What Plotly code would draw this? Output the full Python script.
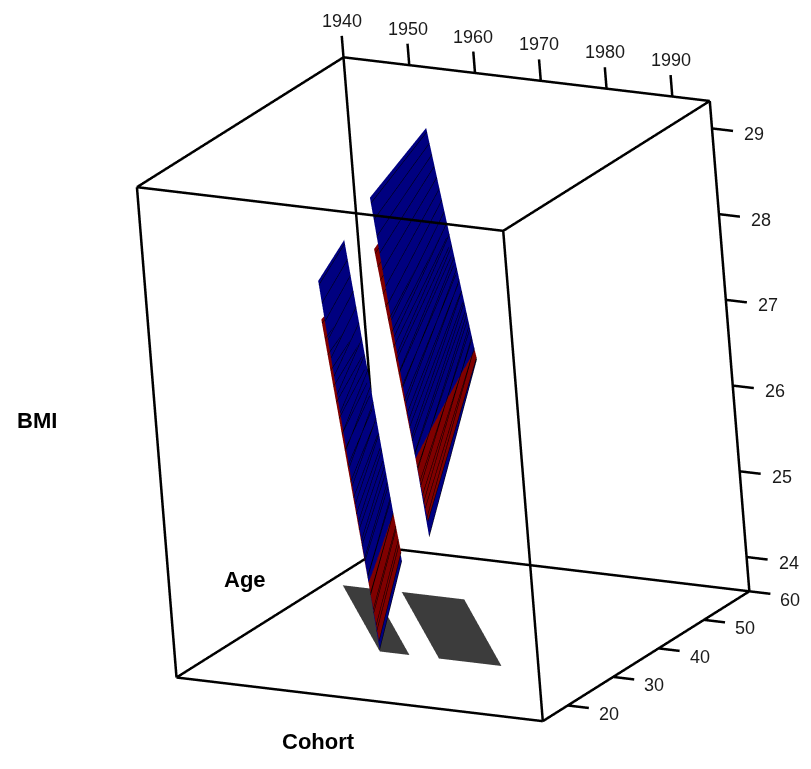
import numpy as np
import plotly.graph_objects as go

# two survey strips: period span (years) and age span
strip_periods = [[1990.0, 1994.5], [1999.0, 2008.5]]
strip_ages = [[29.3, 47.5], [29.3, 47.6]]

# BMI at strip corners: rows = age (low, high), cols = period (start, end)
bmi_blue = [
    [[23.62, 24.70], [27.15, 27.67]],
    [[25.02, 27.18], [28.20, 29.10]],
]
bmi_red = [
    [[23.72, 24.80], [26.70, 27.10]],
    [[25.20, 27.20], [27.60, 28.60]],
]

# axes
cohort_ticks = [1940, 1950, 1960, 1970, 1980, 1990]
age_ticks = [20, 30, 40, 50, 60]
bmi_ticks = [24, 25, 26, 27, 28, 29]
cohort_lim = [1940.0, 1995.7]
age_lim = [14.5, 60.0]
bmi_lim = [23.6, 29.32]

NAVY = "#000080"
MAROON = "#800000"
SHADOW = "#3c3c3c"
FONT = "Liberation Sans, Arial, sans-serif"

flat = dict(ambient=1, diffuse=0, specular=0, roughness=1, fresnel=0)


def flat_scale(c):
    return [[0, c], [1, c]]


fig = go.Figure()

for k in range(len(strip_periods)):
    per = np.array(strip_periods[k])
    age = np.array(strip_ages[k])
    cohort = per[None, :] - age[:, None]
    ages2d = np.repeat(age[:, None], 2, axis=1)

    # shadow on the floor
    fig.add_trace(go.Surface(
        x=cohort, y=ages2d, z=np.full_like(cohort, bmi_lim[0]),
        colorscale=flat_scale(SHADOW), showscale=False, lighting=flat,
        hoverinfo="skip"))

    for vals, col in [(bmi_blue[k], NAVY), (bmi_red[k], MAROON)]:
        fig.add_trace(go.Surface(
            x=cohort, y=ages2d, z=np.array(vals),
            colorscale=flat_scale(col), showscale=False, lighting=flat,
            contours=dict(
                y=dict(show=True, start=age[0], end=age[1], size=0.9,
                       color="black", width=1),
            ),
            hoverinfo="skip"))

# bounding box
x0, x1 = cohort_lim
y0, y1 = age_lim
z0, z1 = bmi_lim
bx, by, bz = [], [], []
corners = [(x, y, z) for x in (x0, x1) for y in (y0, y1) for z in (z0, z1)]
for i in range(8):
    for j in range(i + 1, 8):
        a, b = corners[i], corners[j]
        if sum(p != q for p, q in zip(a, b)) == 1:
            bx += [a[0], b[0], None]
            by += [a[1], b[1], None]
            bz += [a[2], b[2], None]

# tick marks
tick_z = 0.25   # cohort ticks point up
tick_x = 3.2    # BMI and age ticks point along +cohort
tx, ty, tz = [], [], []
for c in cohort_ticks:
    tx += [c, c, None]; ty += [y1, y1, None]; tz += [z1, z1 + tick_z, None]
for b in bmi_ticks:
    tx += [x1, x1 + tick_x, None]; ty += [y1, y1, None]; tz += [b, b, None]
for a in age_ticks:
    tx += [x1, x1 + tick_x, None]; ty += [a, a, None]; tz += [z0, z0, None]

fig.add_trace(go.Scatter3d(x=bx + tx, y=by + ty, z=bz + tz, mode="lines",
                           line=dict(color="black", width=5),
                           hoverinfo="skip", showlegend=False))

tick_font = dict(family=FONT, size=18, color="#1a1a1a")
annos = []
for c in cohort_ticks:
    annos.append(dict(x=c, y=y1, z=z1 + tick_z, text=str(c),
                      xanchor="center", yanchor="bottom", yshift=3))
for b in bmi_ticks:
    annos.append(dict(x=x1 + tick_x, y=y1, z=b, text=str(b),
                      xanchor="left", yanchor="middle", xshift=9, yshift=-3))
for a in age_ticks:
    annos.append(dict(x=x1 + tick_x, y=a, z=z0, text=str(a),
                      xanchor="left", yanchor="middle", xshift=8, yshift=-6))
for a in annos:
    a.update(showarrow=False, font=tick_font)

# padded (invisible) scene ranges so ticks and labels are not clipped
pad = 1.6
def padded(lim):
    c = (lim[0] + lim[1]) / 2
    h = (lim[1] - lim[0]) / 2 * pad
    return [c - h, c + h]

hidden = dict(visible=False, showspikes=False)
eye_dir = np.array([0.5043, -0.8012, 0.3221])
eye = eye_dir * 4.0
up = [-0.1015, 0.3154, 0.9435]
look = [0.0184, 0.0077, -0.0096]
zoom = 1.704

fig.update_layout(
    width=811, height=769,
    margin=dict(l=0, r=0, t=0, b=0),
    paper_bgcolor="white",
    showlegend=False,
    scene=dict(
        domain=dict(x=[0.0925, 1], y=[0, 1]),
        xaxis=dict(range=padded(cohort_lim), **hidden),
        yaxis=dict(range=padded(age_lim), **hidden),
        zaxis=dict(range=padded(bmi_lim), **hidden),
        aspectmode="manual",
        aspectratio=dict(x=1.04 * zoom, y=1.0 * zoom, z=1.27 * zoom),
        camera=dict(eye=dict(x=eye[0], y=eye[1], z=eye[2]),
                    up=dict(x=up[0], y=up[1], z=up[2]),
                    center=dict(x=look[0], y=look[1], z=look[2]),
                    projection=dict(type="orthographic")),
        annotations=annos,
    ),
    annotations=[
        dict(x=29 / 811, y=1 - 412 / 769, text="<b>BMI</b>"),
        dict(x=237 / 811, y=1 - 571 / 769, text="<b>Age</b>"),
        dict(x=310 / 811, y=1 - 733 / 769, text="<b>Cohort</b>"),
    ],
)
for a in fig.layout.annotations:
    a.update(xref="paper", yref="paper", showarrow=False,
             font=dict(family=FONT, size=22, color="black"),
             xanchor="center", yanchor="middle")

fig.write_html("out.html")
